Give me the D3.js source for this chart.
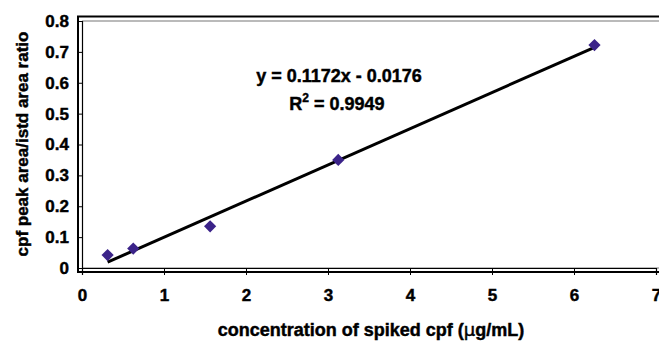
<!DOCTYPE html>
<html><head><meta charset="utf-8">
<script src="https://cdn.jsdelivr.net/npm/d3@7"></script>
<style>
html,body{margin:0;padding:0;background:#fff;}
svg{display:block;font-family:"Liberation Sans",Arial,sans-serif;font-weight:bold;}
svg text{stroke:#000;stroke-width:0.45px;}
</style></head>
<body>
<svg id="chart" width="659" height="344"></svg>
<script>
const concentrations = [0.3125, 0.625, 1.5625, 3.125, 6.25];
const ratios = [0.042, 0.063, 0.135, 0.35, 0.722];
const slope = 0.1172;
const intercept = -0.0176;
const xTicks = [0, 1, 2, 3, 4, 5, 6, 7];
const yTicks = [0, 0.1, 0.2, 0.3, 0.4, 0.5, 0.6, 0.7, 0.8];
const equationText = "y = 0.1172x - 0.0176";
const r2Value = "0.9949";
const xTitle = "concentration of spiked cpf (";
const yTitle = "cpf peak area/istd area ratio";

const svg = d3.select("#chart");
const x = d3.scaleLinear().domain([0, 7]).range([82, 656]);
const y = d3.scaleLinear().domain([0, 0.8]).range([268, 21]);

// outer frame
svg.append("rect").attr("x", 78).attr("y", 16.5).attr("width", 620).attr("height", 255.5)
  .attr("fill", "none").attr("stroke", "#000").attr("stroke-width", 2);
// plot area border
svg.append("rect").attr("x", 82.5).attr("y", 21).attr("width", 620).attr("height", 247)
  .attr("fill", "none").attr("stroke", "#777").attr("stroke-width", 1);

// axes
const xAxis = svg.append("g").attr("transform", "translate(0,268)")
  .call(d3.axisBottom(x).tickValues(xTicks).tickFormat(d3.format("d")).tickSize(7).tickPadding(14));
const yAxis = svg.append("g").attr("transform", "translate(82,0)")
  .call(d3.axisLeft(y).tickValues(yTicks).tickFormat(d => d === 0 ? "0" : d3.format(".1f")(d)).tickSize(5).tickPadding(8));
[xAxis, yAxis].forEach(g => {
  g.select(".domain").attr("stroke", "#000").attr("stroke-width", 1.2);
  g.selectAll(".tick line").attr("stroke", "#000");
  g.selectAll("text").attr("font-size", 17).attr("font-weight", "bold")
    .attr("font-family", "Liberation Sans, Arial, sans-serif").attr("fill", "#000");
});

// trendline
const xmin = d3.min(concentrations), xmax = d3.max(concentrations);
svg.append("line")
  .attr("x1", x(xmin)).attr("y1", y(slope * xmin + intercept))
  .attr("x2", x(xmax)).attr("y2", y(slope * xmax + intercept))
  .attr("stroke", "#000").attr("stroke-width", 3);

// points
svg.selectAll(".pt").data(concentrations).enter().append("path")
  .attr("class", "pt")
  .attr("d", d3.symbol().type(d3.symbolDiamond2).size(95))
  .attr("transform", (d, i) => `translate(${x(d)},${y(ratios[i])})`)
  .attr("fill", "#3b2389");

// equation
svg.append("text").attr("x", 339).attr("y", 82).attr("text-anchor", "middle")
  .attr("font-size", 18).text(equationText);
const r2 = svg.append("text").attr("x", 337).attr("y", 110).attr("text-anchor", "middle").attr("font-size", 18);
r2.append("tspan").text("R");
r2.append("tspan").attr("font-size", 12).attr("dy", -8).text("2");
r2.append("tspan").attr("dy", 8).text(" = " + r2Value);

// axis titles
const xt = svg.append("text").attr("x", 371).attr("y", 336).attr("text-anchor", "middle").attr("font-size", 18);
xt.append("tspan").text(xTitle);
xt.append("tspan").attr("font-family", "DejaVu Sans, sans-serif").attr("font-weight", "normal").text("μ");
xt.append("tspan").text("g/mL)");
svg.append("text").attr("transform", "translate(28,144) rotate(-90)")
  .attr("text-anchor", "middle").attr("font-size", 17).text(yTitle);
</script>
</body></html>
